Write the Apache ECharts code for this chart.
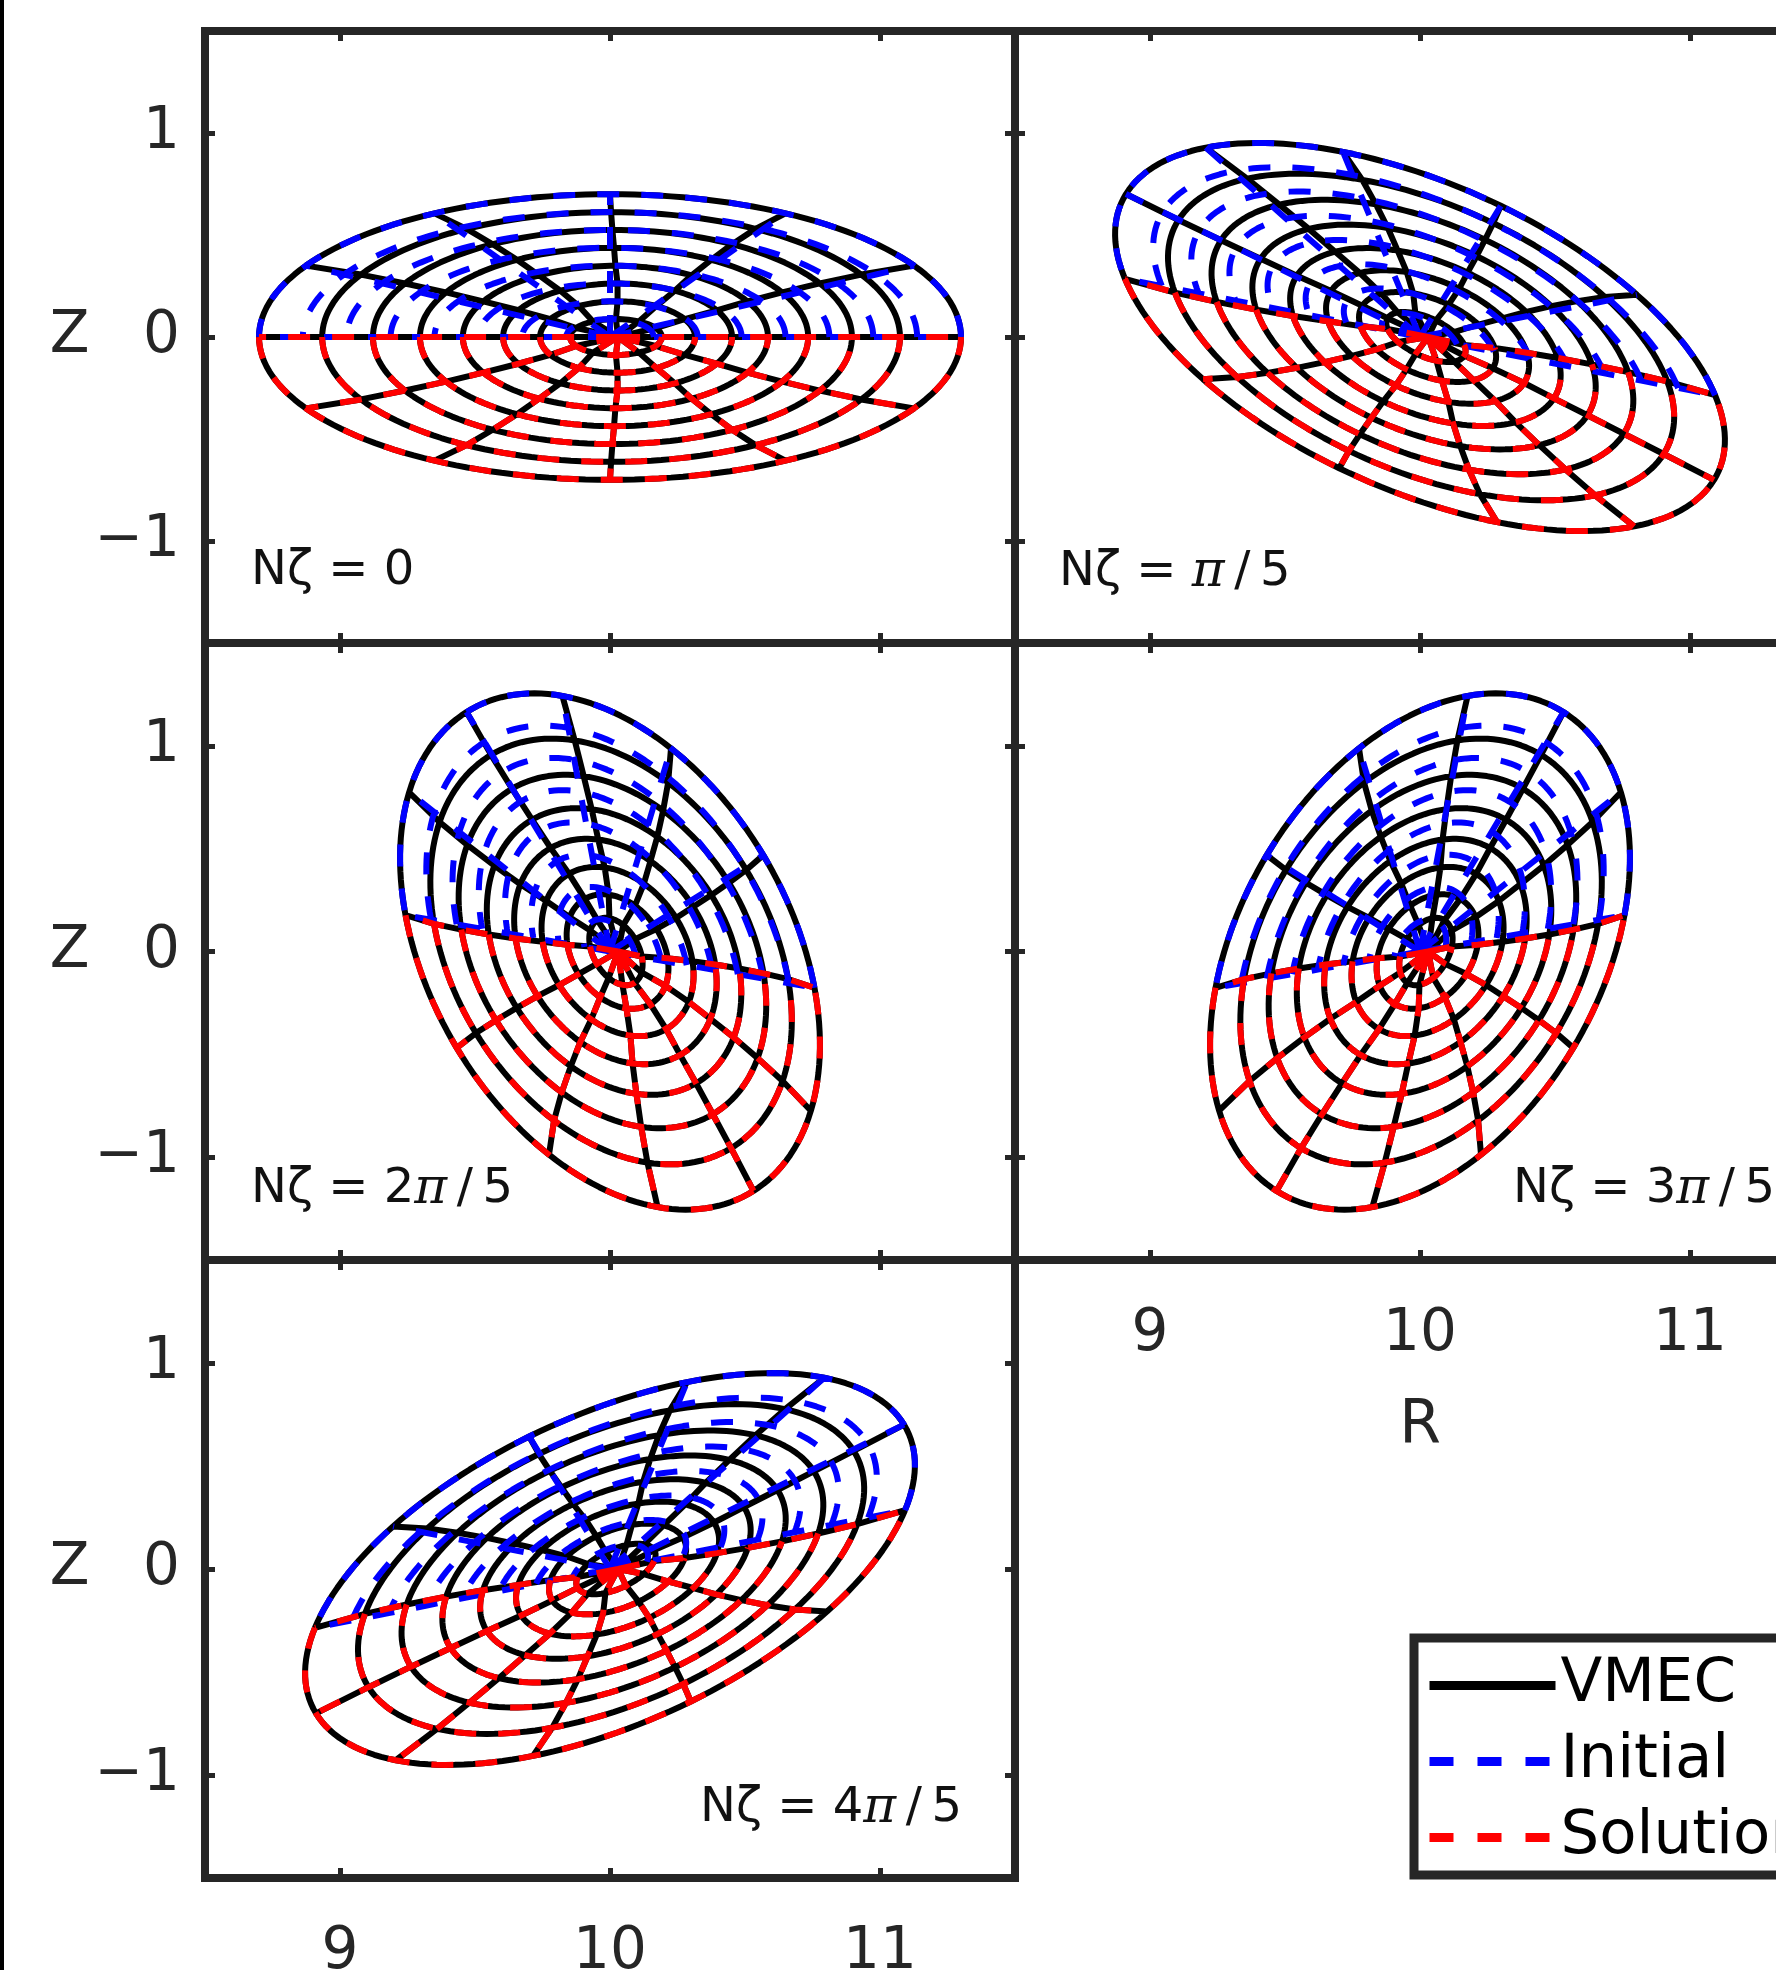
<!DOCTYPE html>
<html>
<head>
<meta charset="utf-8">
<title>VMEC flux surfaces</title>
<script src="https://cdn.jsdelivr.net/npm/echarts@6/dist/echarts.min.js"></script>
<style>
  html, body { margin: 0; padding: 0; background: #fff; }
  #chart { width: 1776px; height: 1970px; }
</style>
</head>
<body>
<div id="chart"></div>
<script>
// ---- data ----
var R0 = 10;
// toroidal cut of each panel, N*zeta in degrees
var cutAngles = [0, 36, 72, 108, 144];
var cutLabels = ['0', 'π/5', '2π/5', '3π/5', '4π/5'];
// m=1 Fourier amplitudes of the 8 flux surfaces (R+iZ = A e^{iθ} + B e^{-i(θ+2Nζ)})
var vmecA = [0.129, 0.231, 0.343, 0.457, 0.578, 0.706, 0.841, 1.000];
var vmecB = [0.041, 0.056, 0.081, 0.108, 0.141, 0.181, 0.229, 0.300];
var vmecShift = [0.022, 0.028, 0.028, 0.020, 0.015, 0.009, 0.004, 0.000];
var vmecAxis = 0.03;
var initA = [0.125, 0.250, 0.375, 0.500, 0.625, 0.750, 0.875, 1.000];
var initB = [0.0375, 0.075, 0.1125, 0.150, 0.1875, 0.225, 0.2625, 0.300];
var initShift = [0, 0, 0, 0, 0, 0, 0, 0];
var initAxis = 0;
var solA = [0.129, 0.231, 0.343, 0.457, 0.578, 0.706, 0.841, 1.000];
var solB = [0.041, 0.056, 0.081, 0.108, 0.141, 0.181, 0.229, 0.300];
var solShift = [0.022, 0.028, 0.028, 0.020, 0.015, 0.009, 0.004, 0.000];
var solAxis = 0.03;
// theta = const lines, degrees
var thetaLines = [0, 30, 60, 90, 120, 150, 180, 210, 240, 270, 300, 330, 360];
var xTicks = [9, 10, 11];
var yTicks = [-1, 0, 1];

// ---- layout ----
var panels = [
  { left: 205, top: 31, height: 612, yLab: true, xLab: false, tx: 251, ty: 578 },
  { left: 1015, top: 31, height: 612, yLab: false, xLab: false, tx: 1059, ty: 578 },
  { left: 205, top: 643, height: 617, yLab: true, xLab: false, tx: 251, ty: 1195 },
  { left: 1015, top: 643, height: 617, yLab: false, xLab: true, tx: 1513, ty: 1195 },
  { left: 205, top: 1260, height: 618, yLab: true, xLab: true, tx: 700, ty: 1814 }
];
var FONT = 'DejaVu Sans';
var INK = '#262626';

function pt(A, B, shift, th, nz) {
  var t = th * Math.PI / 180;
  var p = (th + 2 * nz) * Math.PI / 180;
  return [R0 + shift + A * Math.cos(t) + B * Math.cos(p), A * Math.sin(t) - B * Math.sin(p)];
}

// rings from th0..th1 plus theta lines in that range
function surfaces(A, B, sh, ax, nz, th0, th1) {
  var d = [];
  for (var k = 0; k < A.length; k++) {
    for (var th = th0; th <= th1; th += 2) d.push(pt(A[k], B[k], sh[k], th, nz));
    d.push([NaN, NaN]);
  }
  thetaLines.forEach(function (th) {
    if (th < th0 || th > th1) return;
    d.push([R0 + ax, 0]);
    for (var k = 0; k < A.length; k++) d.push(pt(A[k], B[k], sh[k], th, nz));
    d.push([NaN, NaN]);
  });
  return d;
}

// 'Nζ = 2π/5' as rich text with an italic pi
function cutText(s) {
  var parts = s.split('π');
  var out = '{n|N\u03b6 = ' + parts[0] + '}';
  if (parts.length > 1) out += '{p|π}{n|' + parts[1].replace('/', '\u2009/\u2009') + '}';
  return out;
}

var grids = [], xAxes = [], yAxes = [], series = [], graphics = [];

panels.forEach(function (p, i) {
  grids.push({
    left: p.left, top: p.top, width: 810, height: p.height,
    show: true, borderWidth: 8, borderColor: INK, backgroundColor: 'transparent',
    containLabel: false, outerBoundsMode: 'none'
  });
  var tick = { inside: true, length: 10, lineStyle: { width: 5, color: INK } };
  var lab = { fontSize: 58, color: INK, fontFamily: FONT };
  ['bottom', 'top'].forEach(function (pos) {
    xAxes.push({
      gridIndex: i, type: 'value', min: 8.5, max: 11.5, position: pos,
      axisLine: { show: false, onZero: false }, splitLine: { show: false },
      axisTick: Object.assign({ customValues: xTicks }, tick),
      axisLabel: Object.assign({ show: pos === 'bottom' && p.xLab, customValues: xTicks, margin: 46 }, lab),
      name: (pos === 'bottom' && i === 3) ? 'R' : '',
      nameLocation: 'middle', nameGap: 137,
      nameTextStyle: { fontSize: 60, color: INK, fontFamily: FONT }
    });
  });
  ['left', 'right'].forEach(function (pos) {
    yAxes.push({
      gridIndex: i, type: 'value', min: -1.5, max: 1.5, position: pos,
      axisLine: { show: false, onZero: false }, splitLine: { show: false },
      axisTick: Object.assign({ customValues: yTicks }, tick),
      axisLabel: Object.assign({
        show: pos === 'left' && p.yLab, customValues: yTicks, margin: 25,
        formatter: function (v) { return v < 0 ? '\u2212' + Math.abs(v) : String(v); }
      }, lab),
      name: (pos === 'left' && p.yLab) ? 'Z' : '',
      nameLocation: 'middle', nameGap: 67, nameRotate: 0,
      nameTextStyle: { fontSize: 58, color: INK, fontFamily: FONT }
    });
  });
  var nz = cutAngles[i];
  var common = { type: 'line', xAxisIndex: 2 * i, yAxisIndex: 2 * i, symbol: 'none', silent: true, animation: false };
  series.push(Object.assign({
    name: 'VMEC', z: 2,
    lineStyle: { color: '#000', width: 6 },
    itemStyle: { color: '#000' },
    data: surfaces(vmecA, vmecB, vmecShift, vmecAxis, nz, 0, 360)
  }, common));
  series.push(Object.assign({
    name: 'Initial', z: 3,
    lineStyle: { color: '#0000ff', width: 6, type: [22, 22] },
    itemStyle: { color: '#0000ff' },
    data: surfaces(initA, initB, initShift, initAxis, nz, 0, 180)
  }, common));
  series.push(Object.assign({
    name: 'Solution', z: 4,
    lineStyle: { color: '#ff0000', width: 6, type: [22, 22] },
    itemStyle: { color: '#ff0000' },
    data: surfaces(solA, solB, solShift, solAxis, nz, 180, 360)
  }, common));
  graphics.push({
    type: 'text', left: p.tx, top: p.ty - 30, z: 10,
    style: {
      text: cutText(cutLabels[i]),
      rich: {
        n: { fontSize: 48, fontFamily: FONT, fill: '#111' },
        p: { fontSize: 50, fontFamily: 'DejaVu Serif', fontStyle: 'italic', fill: '#111' }
      }
    }
  });
});

graphics.push({ type: 'rect', left: 0, top: 0, shape: { width: 4, height: 1970 }, style: { fill: '#000' } });

var option = {
  backgroundColor: '#fff',
  animation: false,
  grid: grids,
  xAxis: xAxes,
  yAxis: yAxes,
  series: series,
  graphic: graphics,
  legend: {
    orient: 'vertical', left: 1414, top: 1638,
    data: [
      { name: 'VMEC' },
      { name: 'Initial', lineStyle: { type: [24, 24] } },
      { name: 'Solution', lineStyle: { type: [24, 24] } }
    ],
    itemWidth: 126, itemHeight: 9, itemGap: 15,
    padding: [17, 60, 7, 11],
    borderColor: INK, borderWidth: 9, backgroundColor: '#fff',
    lineStyle: { width: 9 },
    textStyle: { fontSize: 61, color: '#000', fontFamily: FONT }
  }
};

var chart = echarts.init(document.getElementById('chart'));
chart.setOption(option);
</script>
</body>
</html>
